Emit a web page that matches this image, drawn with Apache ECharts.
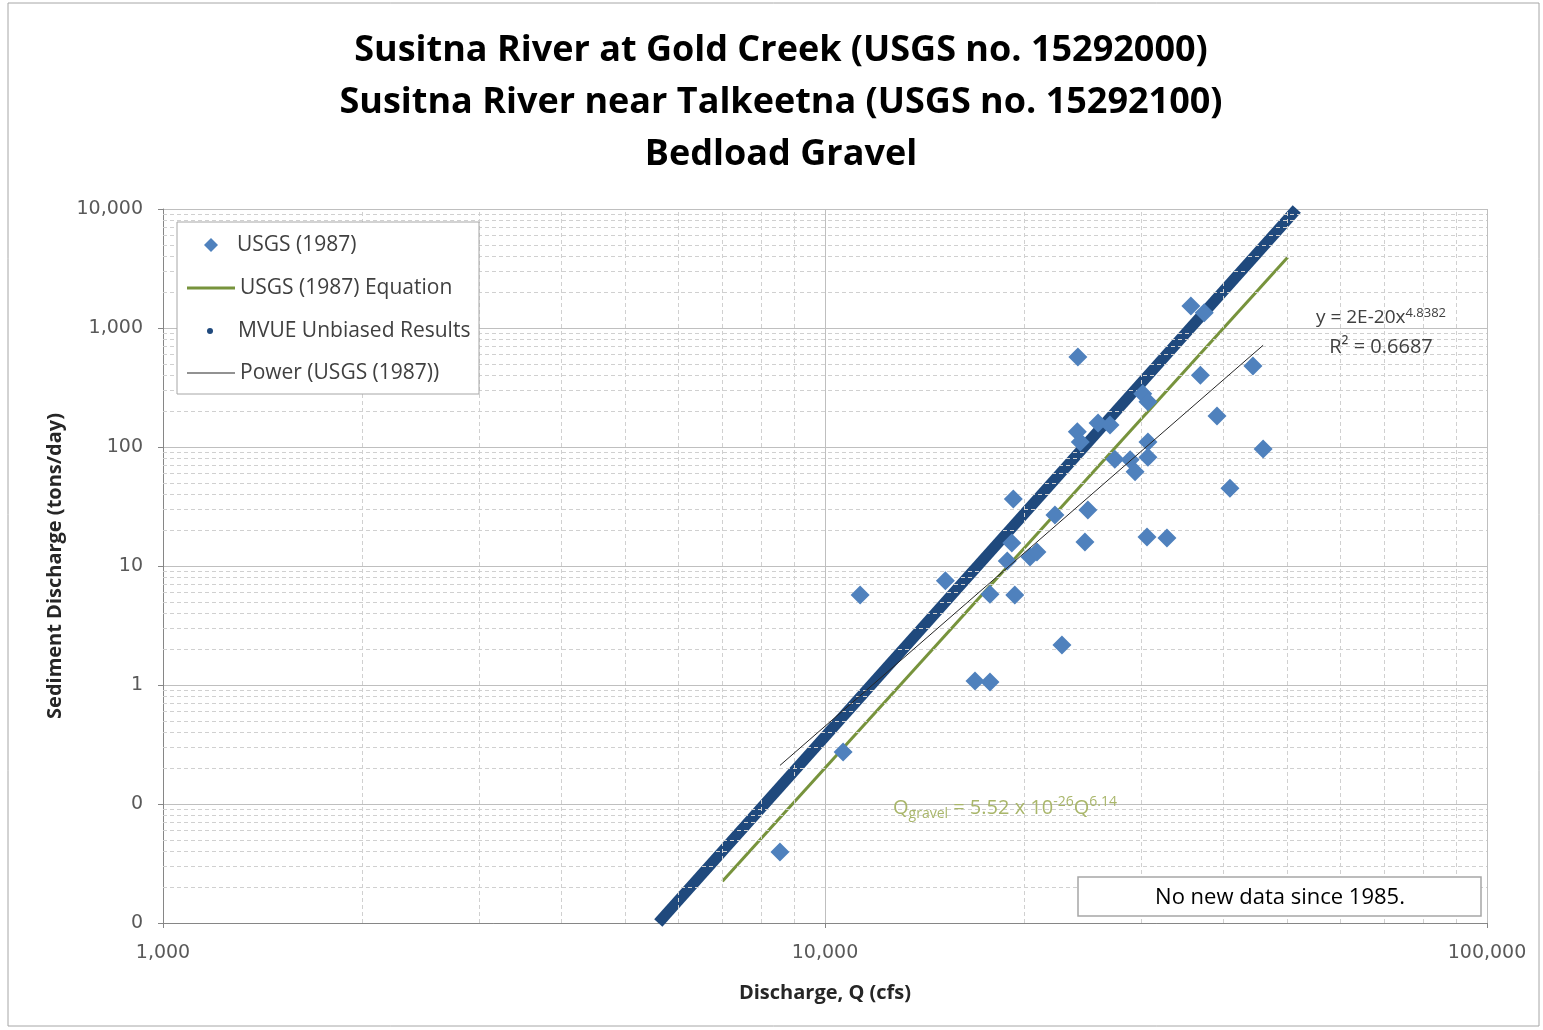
<!DOCTYPE html>
<html>
<head>
<meta charset="utf-8">
<script src="https://cdn.jsdelivr.net/npm/echarts@6/dist/echarts.min.js"></script>
<style>html,body{margin:0;padding:0;background:#fff}#c{width:1543px;height:1030px}</style>
</head>
<body>
<div id="c"></div>
<script>
// ---- data ----
const titleLines = ['Susitna River at Gold Creek (USGS no. 15292000)', 'Susitna River near Talkeetna (USGS no. 15292100)', 'Bedload Gravel'];
const usgsQ = [8550,10650,11300,15200,16850,17750,17750,18850,19150,19250,19350,20400,20900,22250,22800,24100,24050,24300,24700,24950,25850,26950,27400,28900,29400,30200,30750,30750,30750,30650,32850,35700,37400,36900,39100,40900,44300,45900];
const usgsQs = [0.0395,0.274,5.7,7.5,1.08,1.06,5.8,11.0,15.6,36.6,5.7,11.9,13.1,26.8,2.17,570,134,110,15.9,29.5,159,153,79,78,62,280,240,110,82,17.5,17.2,1530,1340,400,182,45,480,96];
const equationQ = [7000, 50000];
const equationQs = [0.0224, 3930];
const mvueQ = [5600, 51600];
const mvueQs = [0.01, 10000];
const powerQ = [8550, 45900];
const powerQs = [0.211, 716];
const yTickValues = [0.01, 0.1, 1, 10, 100, 1000, 10000];
const yTickLabels = ['0', '0', '1', '10', '100', '1,000', '10,000'];
const xTickValues = [1000, 10000, 100000];
const xTickLabels = ['1,000', '10,000', '100,000'];
const xMinorGrid = [2000,3000,4000,5000,6000,7000,8000,9000,20000,30000,40000,50000,60000,70000,80000,90000];
const yMinorGrid = [];
[0.01,0.1,1,10,100,1000].forEach(function(d){ [2,3,4,5,6,7,8,9].forEach(function(m){ yMinorGrid.push(+(d*m).toPrecision(3)); }); });
const seriesNames = ['USGS (1987)', 'USGS (1987) Equation', 'MVUE Unbiased Results', 'Power (USGS (1987))'];

const zip = (a, b) => a.map((v, i) => [v, b[i]]);
const FONT = 'Open Sans';
const TICKFONT = 'DejaVu Sans';
const chart = echarts.init(document.getElementById('c'), null, {renderer: 'canvas'});

// one legend per entry so each can have its own icon size
function legendAt(name, icon, left, top, w, h, textPad) {
  return {
    data: [{name: name, icon: icon}], left: left, top: top, orient: 'vertical', padding: 0, z: 20,
    itemWidth: w, itemHeight: h, selectedMode: false,
    textStyle: {fontFamily: FONT, fontSize: 21, color: '#404040', lineHeight: 24, padding: [0, 0, 0, textPad]}
  };
}

chart.setOption({
  animation: false,
  backgroundColor: '#fff',
  title: {
    text: titleLines.join('\n'), left: 776, top: 20, textAlign: 'center',
    textStyle: {fontFamily: FONT, fontWeight: 'bold', fontSize: 36, lineHeight: 52, color: '#000'}
  },
  grid: {left: 163, right: 56, top: 209, bottom: 107, containLabel: false},
  legend: [
    legendAt(seriesNames[0], 'diamond', 204, 233, 14, 14, 14),
    legendAt(seriesNames[1], 'rect', 187, 276, 48, 3, 0),
    legendAt(seriesNames[2], 'circle', 207, 319, 6, 6, 20),
    legendAt(seriesNames[3], 'rect', 187, 361, 48, 1, 0)
  ],
  xAxis: {
    type: 'log', logBase: 10, min: 1000, max: 100000,
    name: 'Discharge, Q (cfs)', nameLocation: 'middle', nameGap: 60,
    nameTextStyle: {fontFamily: FONT, fontWeight: 'bold', fontSize: 20, color: '#262626'},
    axisLine: {lineStyle: {color: '#868686'}},
    axisTick: {show: true, length: 5, lineStyle: {color: '#868686'}},
    axisLabel: {fontFamily: TICKFONT, fontSize: 19, color: '#595959', margin: 21,
      formatter: function(v){ const i = xTickValues.findIndex(t => Math.abs(Math.log10(t) - Math.log10(v)) < 1e-6); return i >= 0 ? xTickLabels[i] : ''; }},
    splitLine: {show: true, lineStyle: {color: '#bfbfbf', width: 1}}
  },
  yAxis: {
    type: 'log', logBase: 10, min: 0.01, max: 10000,
    name: 'Sediment Discharge (tons/day)', nameLocation: 'middle', nameGap: 97,
    nameTextStyle: {fontFamily: FONT, fontWeight: 'bold', fontSize: 20, color: '#262626'},
    axisLine: {show: true, lineStyle: {color: '#868686'}},
    axisTick: {show: true, length: 5, lineStyle: {color: '#868686'}},
    axisLabel: {fontFamily: TICKFONT, fontSize: 19, color: '#595959', margin: 20,
      formatter: function(v){ const i = yTickValues.findIndex(t => Math.abs(Math.log10(t) - Math.log10(v)) < 1e-6); return i >= 0 ? yTickLabels[i] : ''; }},
    splitLine: {show: true, lineStyle: {color: '#bfbfbf', width: 1}}
  },
  series: [
    {
      name: 'minor-grid', type: 'line', data: [], silent: true, z: 0,
      markLine: {
        silent: true, symbol: 'none', label: {show: false}, animation: false,
        lineStyle: {color: '#d0d0d0', type: [4, 3], width: 1},
        data: xMinorGrid.map(v => ({xAxis: v})).concat(yMinorGrid.map(v => ({yAxis: v})))
      }
    },
    {
      name: seriesNames[2], type: 'line', data: zip(mvueQ, mvueQs), symbol: 'none', z: 3,
      color: '#1f497d', lineStyle: {color: '#1f497d', width: 11}
    },
    {
      name: seriesNames[1], type: 'line', data: zip(equationQ, equationQs), symbol: 'none', z: 4,
      color: '#77933c', lineStyle: {color: '#77933c', width: 3}
    },
    {
      name: seriesNames[0], type: 'scatter', data: zip(usgsQ, usgsQs), symbol: 'diamond', symbolSize: 19, z: 5,
      itemStyle: {color: '#4f81bd', opacity: 1}
    },
    {
      name: seriesNames[3], type: 'line', data: zip(powerQ, powerQs), symbol: 'none', z: 6,
      color: '#262626', lineStyle: {color: '#262626', width: 1}
    }
  ],
  graphic: [
    {type: 'rect', shape: {x: 8, y: 3, width: 1531, height: 1023}, style: {fill: 'none', stroke: '#a6a6a6', lineWidth: 1}, z: -10, silent: true},
    {type: 'rect', shape: {x: 177, y: 222, width: 302, height: 172}, style: {fill: '#fff', stroke: '#a6a6a6', lineWidth: 1}, z: 10, silent: true},
    {type: 'rect', shape: {x: 1078, y: 877, width: 403, height: 39}, style: {fill: '#fff', stroke: '#a6a6a6', lineWidth: 1.5}, z: 10, silent: true},
    {type: 'text', x: 1280, y: 898, z: 11, silent: true,
      style: {text: 'No new data since 1985.', fontFamily: FONT, fontSize: 22, fill: '#000', align: 'center', verticalAlign: 'middle'}},
    {type: 'text', x: 1381, y: 318, z: 11, silent: true,
      style: {text: '{b|y = 2E-20x}{s|4.8382}', align: 'center', verticalAlign: 'middle',
        rich: {b: {fontFamily: FONT, fontSize: 19, fill: '#404040'}, s: {fontFamily: FONT, fontSize: 13, fill: '#404040', padding: [0,0,10,0]}}}},
    {type: 'text', x: 1381, y: 347, z: 11, silent: true,
      style: {text: 'R² = 0.6687', fontFamily: FONT, fontSize: 20, fill: '#404040', align: 'center', verticalAlign: 'middle'}},
    {type: 'text', x: 893, y: 808, z: 11, silent: true,
      style: {text: '{b|Q}{sub|gravel}{b| = 5.52 x 10}{sup|-26}{b|Q}{sup|6.14}', align: 'left', verticalAlign: 'middle',
        rich: {b: {fontFamily: FONT, fontSize: 20, fill: '#a9b66a'}, sub: {fontFamily: FONT, fontSize: 14, fill: '#a9b66a', padding: [12,0,0,0]}, sup: {fontFamily: FONT, fontSize: 14, fill: '#a9b66a', padding: [0,0,12,0]}}}}
  ]
});
</script>
</body>
</html>
